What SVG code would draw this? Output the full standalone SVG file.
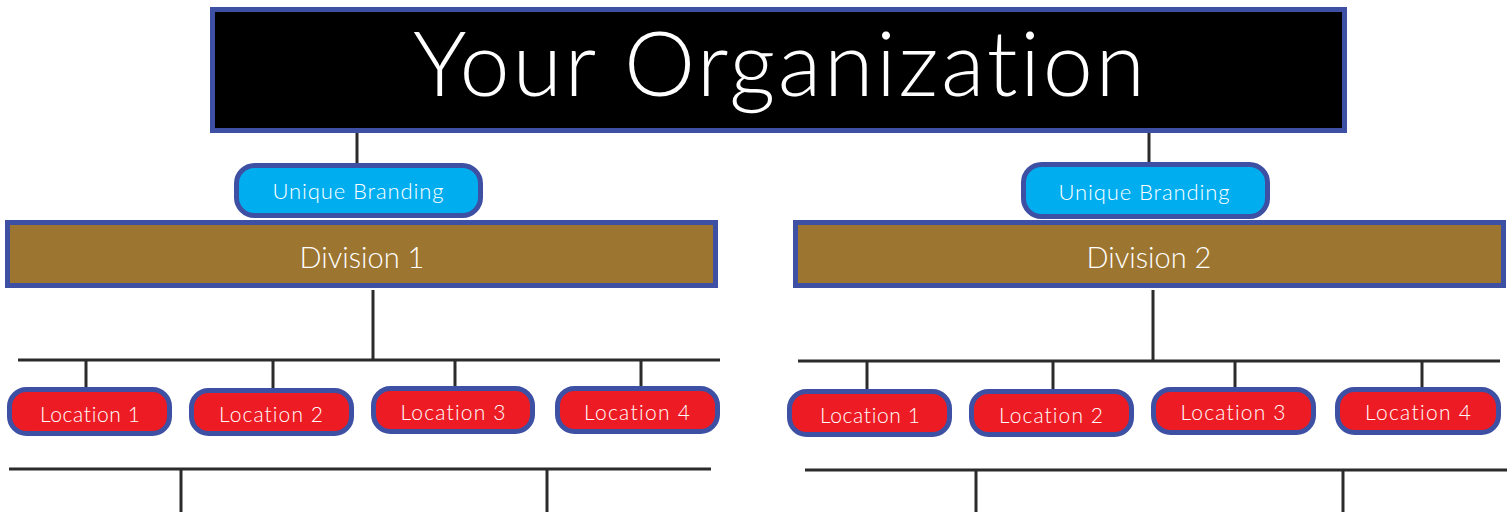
<svg xmlns="http://www.w3.org/2000/svg" width="1511" height="512" viewBox="0 0 1511 512">
<style>
.ln{stroke:#2b2b2b;stroke-width:3;fill:none}
.bd{stroke:#3e50a3;stroke-width:5}
.org{fill:#000}
.brand{fill:#00aeef}
.div{fill:#9c7530}
.loc{fill:#ed1c24}
text{font-family:Lato,"Noto Sans","Liberation Sans",sans-serif;font-weight:300;fill:#fff;text-anchor:middle;font-variant-ligatures:none}
.t0{font-size:90px}
.t1{font-size:22px}
.t2{font-size:29px}
.t3{font-size:21px}
</style>
<g id="connectors">
<line class="ln" x1="357" y1="133" x2="357" y2="164"/>
<line class="ln" x1="1149" y1="133" x2="1149" y2="163"/>
<line class="ln" x1="373" y1="290" x2="373" y2="359"/>
<line class="ln" x1="18" y1="360" x2="720" y2="360"/>
<line class="ln" x1="86" y1="360" x2="86" y2="388"/>
<line class="ln" x1="273" y1="360" x2="273" y2="389"/>
<line class="ln" x1="455" y1="360" x2="455" y2="387"/>
<line class="ln" x1="641" y1="360" x2="641" y2="387"/>
<line class="ln" x1="9" y1="469" x2="711" y2="469"/>
<line class="ln" x1="181" y1="469" x2="181" y2="512"/>
<line class="ln" x1="547" y1="469" x2="547" y2="512"/>
<line class="ln" x1="1153" y1="290" x2="1153" y2="360"/>
<line class="ln" x1="798" y1="361" x2="1500" y2="361"/>
<line class="ln" x1="867" y1="361" x2="867" y2="390"/>
<line class="ln" x1="1053" y1="361" x2="1053" y2="390"/>
<line class="ln" x1="1235" y1="361" x2="1235" y2="388"/>
<line class="ln" x1="1422" y1="361" x2="1422" y2="388"/>
<line class="ln" x1="805" y1="470" x2="1507" y2="470"/>
<line class="ln" x1="976" y1="470" x2="976" y2="512"/>
<line class="ln" x1="1343" y1="470" x2="1343" y2="512"/>
</g>
<g id="org">
<rect class="org bd" x="212.5" y="9.5" width="1132" height="121"/>
<text class="t0" x="779" y="96" textLength="732" lengthAdjust="spacing">Your Organization</text>
</g>
<g id="brand1">
<rect class="brand bd" x="236.5" y="165.5" width="244" height="50" rx="18"/>
<text class="t1" x="358" y="199" textLength="171" lengthAdjust="spacing">Unique Branding</text>
</g>
<g id="brand2">
<rect class="brand bd" x="1023.5" y="164.5" width="244" height="52" rx="18"/>
<text class="t1" x="1144" y="200" textLength="171" lengthAdjust="spacing">Unique Branding</text>
</g>
<g id="division1">
<rect class="div bd" x="7.5" y="222.5" width="708" height="63"/>
<text class="t2" x="362" y="268">Division 1</text>
</g>
<g id="division2">
<rect class="div bd" x="795.5" y="222.5" width="708" height="63"/>
<text class="t2" x="1149" y="268">Division 2</text>
</g>
<g id="d1loc1"><rect class="loc bd" x="9.5" y="389.5" width="160" height="44" rx="17"/><text class="t3" x="90" y="422" textLength="100" lengthAdjust="spacing">Location 1</text></g>
<g id="d1loc2"><rect class="loc bd" x="191.5" y="390.5" width="160" height="43" rx="17"/><text class="t3" x="271" y="422" textLength="104" lengthAdjust="spacing">Location 2</text></g>
<g id="d1loc3"><rect class="loc bd" x="373.5" y="388.5" width="159" height="43" rx="17"/><text class="t3" x="453" y="420" textLength="105" lengthAdjust="spacing">Location 3</text></g>
<g id="d1loc4"><rect class="loc bd" x="557.5" y="388.5" width="160" height="43" rx="17"/><text class="t3" x="637" y="420" textLength="106" lengthAdjust="spacing">Location 4</text></g>
<g id="d2loc1"><rect class="loc bd" x="789.5" y="391.5" width="160" height="43" rx="17"/><text class="t3" x="870" y="423" textLength="100" lengthAdjust="spacing">Location 1</text></g>
<g id="d2loc2"><rect class="loc bd" x="971.5" y="391.5" width="160" height="43" rx="17"/><text class="t3" x="1051" y="423" textLength="104" lengthAdjust="spacing">Location 2</text></g>
<g id="d2loc3"><rect class="loc bd" x="1153.5" y="389.5" width="160" height="43" rx="17"/><text class="t3" x="1233" y="420" textLength="105" lengthAdjust="spacing">Location 3</text></g>
<g id="d2loc4"><rect class="loc bd" x="1337.5" y="389.5" width="161" height="43" rx="17"/><text class="t3" x="1418" y="420" textLength="106" lengthAdjust="spacing">Location 4</text></g>
</svg>
